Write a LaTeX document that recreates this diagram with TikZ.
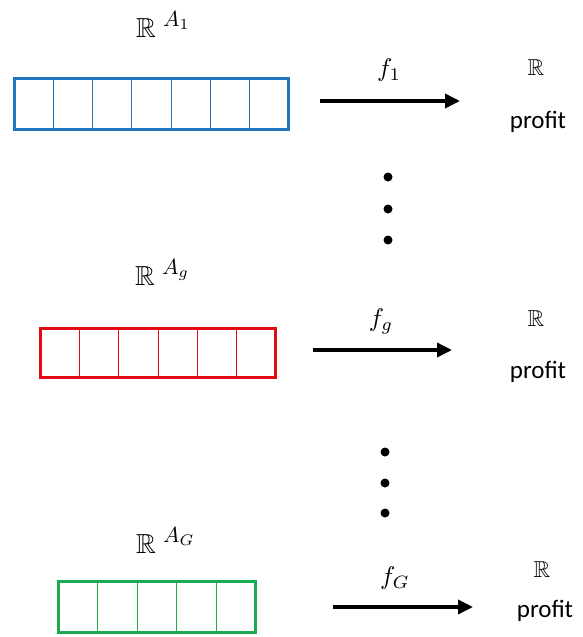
\documentclass[tikz,border=0pt]{standalone}
\usepackage{amssymb}
\usepackage{graphicx}
\usepackage{fontspec}
\newfontfamily\carlito{Carlito}
\usetikzlibrary{calc,arrows.meta}
\definecolor{boxblue}{RGB}{31,117,190}
\definecolor{boxred}{RGB}{228,10,20}
\definecolor{boxgreen}{RGB}{28,170,80}
\newcommand{\setsym}[1]{\scalebox{2.75}{$\mathbb{R}$}\hspace{7pt}\raisebox{11pt}{\scalebox{2.2}{$A_{#1}$}}}
\newcommand{\fnsym}[1]{\scalebox{2.55}{$f_{#1}$}}
\newcommand{\realsym}{\scalebox{2.3}{$\mathbb{R}$}}
\begin{document}
\begin{tikzpicture}[x=1pt,y=-1pt,
  vec/.style={draw, line width=3pt, outer sep=0pt, inner sep=0pt},
  cell/.style={line width=0.9pt},
  setlabel/.style={anchor=base west, inner sep=0pt},
  fnlabel/.style={inner sep=0pt},
  target/.style={inner sep=0pt},
  profitlabel/.style={anchor=base, inner sep=0pt, font=\carlito\fontsize{25}{30}\selectfont},
  maparrow/.style={line width=3.5pt, -{Triangle[length=15pt,width=14pt]}},
  vdot/.style={circle, fill=black, inner sep=0pt, minimum size=9pt}
]
\useasboundingbox (0,0) rectangle (582,637);

% top vector
\node[vec, draw=boxblue, minimum width=274pt, minimum height=51pt] (b1) at (151.5,104) {};
\foreach \i in {1,...,6}{
  \draw[cell, boxblue] ($(b1.north west)!\i/7!(b1.north east)$) -- ($(b1.south west)!\i/7!(b1.south east)$);
}
\node[setlabel] (l1) at (136,37) {\setsym{1}};
\coordinate (s1) at (320,101);
\coordinate (e1) at (460,101);
\draw[maparrow] (s1) -- (e1);
\node[fnlabel] (f1) at (389,70) {\fnsym{1}};
\node[target] (r1) at (536,68) {\realsym};
\node[profitlabel] (p1) at (538,128) {profit};

% dots
\node[vdot] (d1) at (388,177) {};
\node[vdot] (d2) at (388,209) {};
\node[vdot] (d3) at (388,240) {};

% middle vector
\node[vec, draw=boxred, minimum width=235pt, minimum height=49pt] (bg) at (158,353) {};
\foreach \i in {1,...,5}{
  \draw[cell, boxred] ($(bg.north west)!\i/6!(bg.north east)$) -- ($(bg.south west)!\i/6!(bg.south east)$);
}
\node[setlabel] (lg) at (135,285) {\setsym{g}};
\coordinate (sg) at (313,350);
\coordinate (eg) at (452,350);
\draw[maparrow] (sg) -- (eg);
\node[fnlabel] (fg) at (381,321) {\fnsym{g}};
\node[target] (rg) at (536,319) {\realsym};
\node[profitlabel] (pg) at (538,378) {profit};

% dots
\node[vdot] (d4) at (385,452) {};
\node[vdot] (d5) at (385,483) {};
\node[vdot] (d6) at (385,513) {};

% bottom vector
\node[vec, draw=boxgreen, minimum width=197pt, minimum height=51pt] (bG) at (157,607) {};
\foreach \i in {1,...,4}{
  \draw[cell, boxgreen] ($(bG.north west)!\i/5!(bG.north east)$) -- ($(bG.south west)!\i/5!(bG.south east)$);
}
\node[setlabel] (lG) at (136,553) {\setsym{G}};
\coordinate (sG) at (333,607);
\coordinate (eG) at (473,607);
\draw[maparrow] (sG) -- (eG);
\node[fnlabel] (fG) at (395,578) {\fnsym{G}};
\node[target] (rG) at (542,570) {\realsym};
\node[profitlabel] (pG) at (545,617) {profit};
\end{tikzpicture}
\end{document}
